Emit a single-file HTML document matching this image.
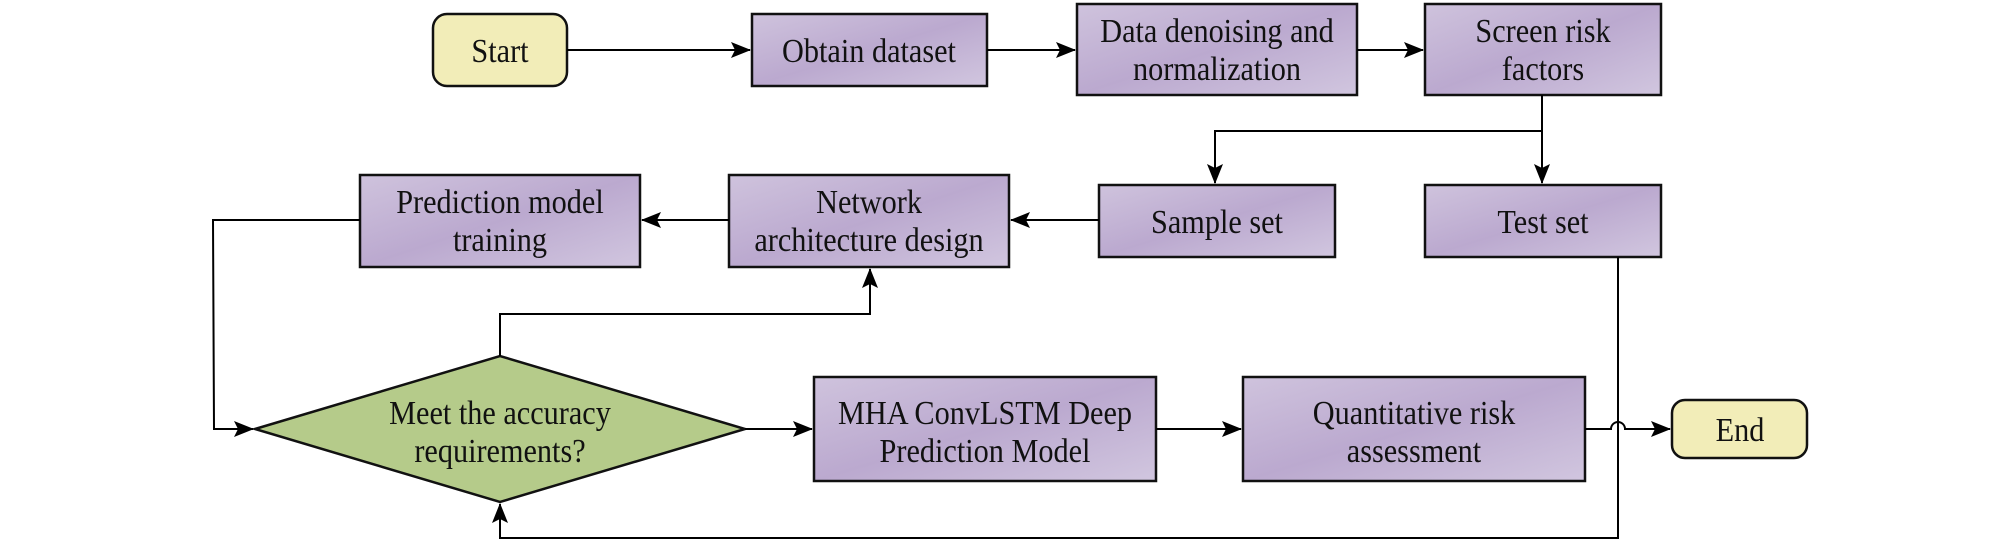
<!DOCTYPE html>
<html><head><meta charset="utf-8"><style>
body{margin:0;background:#fff}
svg{display:block}
text{font-family:"Liberation Serif",serif;font-size:34px;fill:#111;text-anchor:middle;transform-box:fill-box;transform-origin:center;transform:scaleX(0.89)}
</style></head><body>
<svg width="2009" height="544" viewBox="0 0 2009 544">
<defs>
<linearGradient id="p" x1="0" y1="0" x2="1" y2="1">
<stop offset="0" stop-color="#cfc3dd"/><stop offset="0.5" stop-color="#bba9cf"/><stop offset="1" stop-color="#d1c6df"/></linearGradient>
<marker id="b" markerWidth="20" markerHeight="16" refX="19" refY="8" orient="auto" markerUnits="userSpaceOnUse"><path d="M0,0 L20,8 L0,16 L4,8 Z" fill="#000"/></marker>
</defs>
<g stroke="#111" stroke-width="2.5">
<rect x="433" y="14" width="134" height="72" rx="14" fill="#f2edb8"/>
<rect x="752" y="14" width="235" height="72" fill="url(#p)"/>
<rect x="1077" y="4" width="280" height="91" fill="url(#p)"/>
<rect x="1425" y="4" width="236" height="91" fill="url(#p)"/>
<rect x="360" y="175" width="280" height="92" fill="url(#p)"/>
<rect x="729" y="175" width="280" height="92" fill="url(#p)"/>
<rect x="1099" y="185" width="236" height="72" fill="url(#p)"/>
<rect x="1425" y="185" width="236" height="72" fill="url(#p)"/>
<polygon points="255,429 500,356 745,429 500,502" fill="#b5cb8a"/>
<rect x="814" y="377" width="342" height="104" fill="url(#p)"/>
<rect x="1243" y="377" width="342" height="104" fill="url(#p)"/>
<rect x="1672" y="400" width="135" height="58" rx="13" fill="#f2edb8"/>
</g>
<g stroke="#000" stroke-width="2" fill="none">
<line x1="567" y1="50" x2="750" y2="50" marker-end="url(#b)"/>
<line x1="987" y1="50" x2="1075" y2="50" marker-end="url(#b)"/>
<line x1="1357" y1="50" x2="1423" y2="50" marker-end="url(#b)"/>
<polyline points="1542,95 1542,131 1215,131 1215,183" marker-end="url(#b)"/>
<line x1="1542" y1="131" x2="1542" y2="183" marker-end="url(#b)"/>
<line x1="1099" y1="220" x2="1011" y2="220" marker-end="url(#b)"/>
<line x1="729" y1="220" x2="642" y2="220" marker-end="url(#b)"/>
<polyline points="360,220 213,220 214,429 253,429" marker-end="url(#b)"/>
<polyline points="500,356 500,314 870,314 870,269" marker-end="url(#b)"/>
<line x1="745" y1="429" x2="812" y2="429" marker-end="url(#b)"/>
<line x1="1156" y1="429" x2="1241" y2="429" marker-end="url(#b)"/>
<path d="M1585,429 L1611,429 A7,7 0 0 1 1625,429 L1670,429" marker-end="url(#b)"/>
<polyline points="1618,257 1618,538 500,538 500,504" marker-end="url(#b)"/>
</g>
<text x="500" y="62">Start</text>
<text x="869" y="62">Obtain dataset</text>
<text x="1217" y="42">Data denoising and</text>
<text x="1217" y="80">normalization</text>
<text x="1543" y="42">Screen risk</text>
<text x="1543" y="80">factors</text>
<text x="500" y="213">Prediction model</text>
<text x="500" y="251">training</text>
<text x="869" y="213">Network</text>
<text x="869" y="251">architecture design</text>
<text x="1217" y="233">Sample set</text>
<text x="1543" y="233">Test set</text>
<text x="500" y="424">Meet the accuracy</text>
<text x="500" y="462">requirements?</text>
<text x="985" y="424">MHA ConvLSTM Deep</text>
<text x="985" y="462">Prediction Model</text>
<text x="1414" y="424">Quantitative risk</text>
<text x="1414" y="462">assessment</text>
<text x="1740" y="441">End</text>
</svg>
</body></html>
